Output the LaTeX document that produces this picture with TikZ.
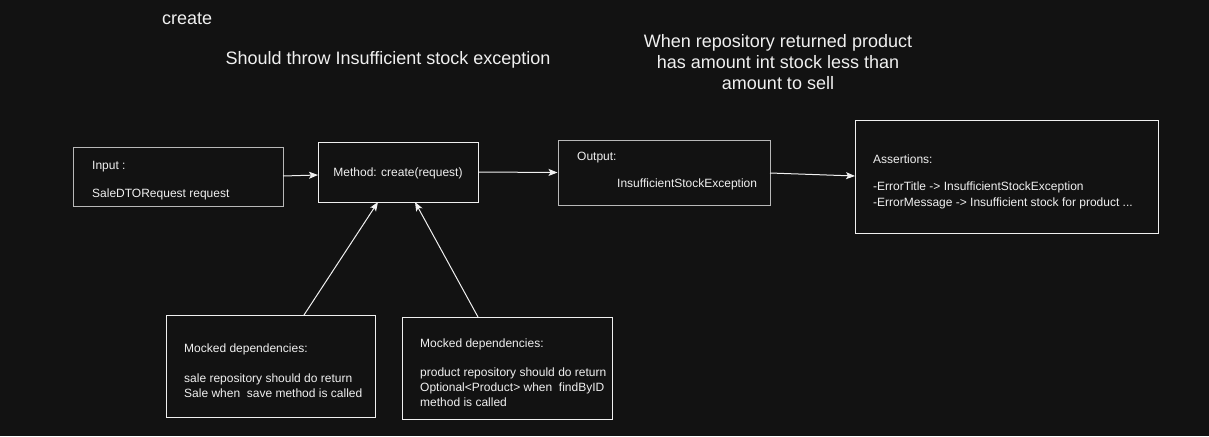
\documentclass[tikz,border=0pt]{standalone}
\usepackage{fontspec}
\setmainfont{Liberation Sans}
\usetikzlibrary{arrows.meta}
\definecolor{bg}{HTML}{121212}
\definecolor{fg}{HTML}{F0F0F0}
\definecolor{gborder}{HTML}{B8B8B8}
\begin{document}
\begin{tikzpicture}[x=1pt,y=-1pt,
  box/.style={draw=fg, line width=1pt, rectangle, inner sep=0pt},
  gbox/.style={box, draw=gborder},
  txt/.style={text=fg, font=\fontsize{12}{15}\selectfont, inner sep=0pt, anchor=west, align=left},
  ttl/.style={text=fg, font=\fontsize{18}{21}\selectfont, inner sep=0pt, align=center},
  arr/.style={draw=fg, line width=1pt, -{Stealth[length=9pt,width=7pt,inset=2pt]}}]
\fill[bg] (0,0) rectangle (1209,436);
\useasboundingbox (0,0) rectangle (1209,436);

% titles
\node[ttl, anchor=west] (t1) at (162,19) {create};
\node[ttl] (t2) at (388,60) {Should throw Insufficient stock exception};
\node[ttl] (t3) at (778,62) {When repository returned product\\has amount int stock less than\\amount to sell};

% boxes
\node[gbox, minimum width=210pt, minimum height=59pt] (in) at (178,176.5) {};
\node[box, minimum width=160pt, minimum height=60pt] (method) at (398,172) {};
\node[gbox, minimum width=212pt, minimum height=65pt] (out) at (664,172.5) {};
\node[box, minimum width=303pt, minimum height=113pt] (as) at (1006.5,176.5) {};
\node[box, minimum width=209pt, minimum height=102pt] (mockA) at (270.5,366) {};
\node[box, minimum width=210pt, minimum height=102pt] (mockB) at (507,368) {};

% texts
\node[txt] (inT1) at (92,167) {Input :};
\node[txt] (inT2) at (92,194) {SaleDTORequest request};
\node[txt, anchor=center] (mT) at (398,173) {Method: create(request)};
\node[txt] (oT1) at (577,158) {Output:};
\node[txt] (oT2) at (617,184) {InsufficientStockException};
\node[txt] (aT1) at (873,159) {Assertions:};
\node[txt] (aT2) at (873,187) {-ErrorTitle -> InsufficientStockException};
\node[txt] (aT3) at (873,203) {-ErrorMessage -> Insufficient stock for product ...};
\node[txt] (maT1) at (184,349) {Mocked dependencies:};
\node[txt] (maT2) at (184,385.5) {sale repository should do return\\Sale when\ \ save method is called};
\node[txt] (mbT1) at (420,344) {Mocked dependencies:};
\node[txt] (mbT2) at (420,387) {product repository should do return\\Optional<Product> when\ \ findByID\\method is called};

% connector points
\coordinate (ma) at (304,315);
\coordinate (mb) at (478,317);
\coordinate (m1) at (378,202);
\coordinate (m2) at (415,202);
\coordinate (ine) at (283,176);
\coordinate (mw) at (318,175);
\coordinate (oe) at (770,173);
\coordinate (aw) at (855,176);

\draw[arr] (ine) -- (mw);
\draw[arr] (method.east) -- (out.west);
\draw[arr] (oe) -- (aw);
\draw[arr] (ma) -- (m1);
\draw[arr] (mb) -- (m2);
\end{tikzpicture}
\end{document}
